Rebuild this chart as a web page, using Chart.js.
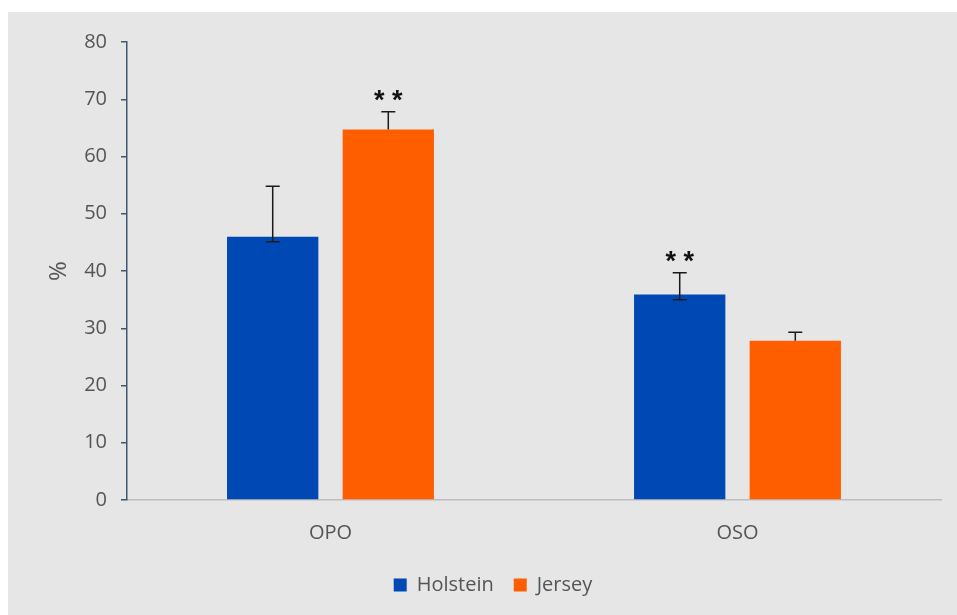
<!DOCTYPE html>
<html>
<head>
<meta charset="utf-8">
<script src="https://cdn.jsdelivr.net/npm/chart.js@4"></script>
<style>
  html, body { margin: 0; padding: 0; background: #ffffff; }
  #wrap {
    position: absolute;
    left: 8px;
    top: 12px;
    width: 949px;
    height: 603px;
    background: #e6e6e6;
  }
</style>
</head>
<body>
<div id="wrap"><canvas id="myChart"></canvas></div>
<script>
const categories = ['OPO', 'OSO'];
const holstein = [46.0, 35.9];
const jersey = [64.7, 27.8];
// upper end of the error bars
const holsteinErrHigh = [54.8, 39.7];
const jerseyErrHigh = [67.8, 29.3];
// lower end (only visible where it dips below the bar top)
const holsteinErrLow = [45.1, 35.0];
const jerseyErrLow = [64.7, 27.8];
// significance marks above each bar
const holsteinSig = ['', '* *'];
const jerseySig = ['* *', ''];
const yTicks = [0, 10, 20, 30, 40, 50, 60, 70, 80];

const errHigh = [holsteinErrHigh, jerseyErrHigh];
const errLow = [holsteinErrLow, jerseyErrLow];
const sigMarks = [holsteinSig, jerseySig];

const errorBars = {
    id: 'errorBars',
    afterDatasetsDraw(chart) {
        const ctx = chart.ctx;
        const y = chart.scales.y;
        ctx.save();
        chart.data.datasets.forEach((ds, di) => {
            const meta = chart.getDatasetMeta(di);
            meta.data.forEach((bar, i) => {
                const x = bar.x;
                const top = y.getPixelForValue(errHigh[di][i]);
                const low = y.getPixelForValue(errLow[di][i]);
                const val = y.getPixelForValue(ds.data[i]);
                ctx.strokeStyle = '#1a1a1a';
                ctx.lineWidth = 1.5;
                ctx.beginPath();
                ctx.moveTo(x, top);
                ctx.lineTo(x, Math.max(low, val));
                ctx.moveTo(x - 7, top);
                ctx.lineTo(x + 7, top);
                if (low > val + 0.5) {
                    ctx.moveTo(x - 7, low);
                    ctx.lineTo(x + 7, low);
                }
                ctx.stroke();
                if (sigMarks[di][i]) {
                    ctx.fillStyle = '#111111';
                    ctx.font = 'bold 27px "Liberation Sans"';
                    ctx.textAlign = 'center';
                    ctx.textBaseline = 'alphabetic';
                    ctx.fillText(sigMarks[di][i], x, top - 3);
                }
            });
        });
        ctx.restore();
    }
};

const ctx = document.getElementById('myChart').getContext('2d');

new Chart(ctx, {
    type: 'bar',
    data: {
        labels: categories,
        datasets: [{
            label: 'Holstein',
            data: holstein,
            backgroundColor: '#0048b4',
            categoryPercentage: 0.568,
            barPercentage: 0.79
        }, {
            label: 'Jersey',
            data: jersey,
            backgroundColor: '#ff5e00',
            categoryPercentage: 0.568,
            barPercentage: 0.79
        }]
    },
    options: {
        responsive: true,
        maintainAspectRatio: false,
        animation: false,
        layout: {
            padding: { top: 30, right: 16, left: 37, bottom: 10 }
        },
        scales: {
            x: {
                grid: { display: false },
                border: { color: '#bdbdbd', width: 1.5 },
                ticks: {
                    color: '#555555',
                    font: { family: '"Open Sans"', size: 20 },
                    padding: 13
                },
                afterFit(scale) { scale.height = 55; }
            },
            y: {
                min: 0,
                max: 80,
                afterBuildTicks(scale) {
                    scale.ticks = yTicks.map(v => ({ value: v }));
                },
                grid: {
                    drawOnChartArea: false,
                    drawTicks: true,
                    tickLength: 6,
                    color: '#3f5670',
                    lineWidth: 1.5
                },
                border: { color: '#3f5670', width: 1.5 },
                ticks: {
                    color: '#555555',
                    font: { family: '"Open Sans"', size: 20 },
                    padding: 14
                },
                title: {
                    display: true,
                    text: '%',
                    color: '#555555',
                    font: { family: '"Open Sans"', size: 24 },
                    padding: { top: 0, bottom: 0 }
                },
                afterFit(scale) { scale.width = 82; }
            }
        },
        plugins: {
            legend: {
                position: 'bottom',
                onClick: null,
                labels: {
                    color: '#555555',
                    font: { family: '"Open Sans"', size: 20 },
                    boxWidth: 13,
                    boxHeight: 13,
                    padding: 20
                }
            },
            tooltip: { enabled: false }
        }
    },
    plugins: [errorBars]
});
</script>
</body>
</html>
